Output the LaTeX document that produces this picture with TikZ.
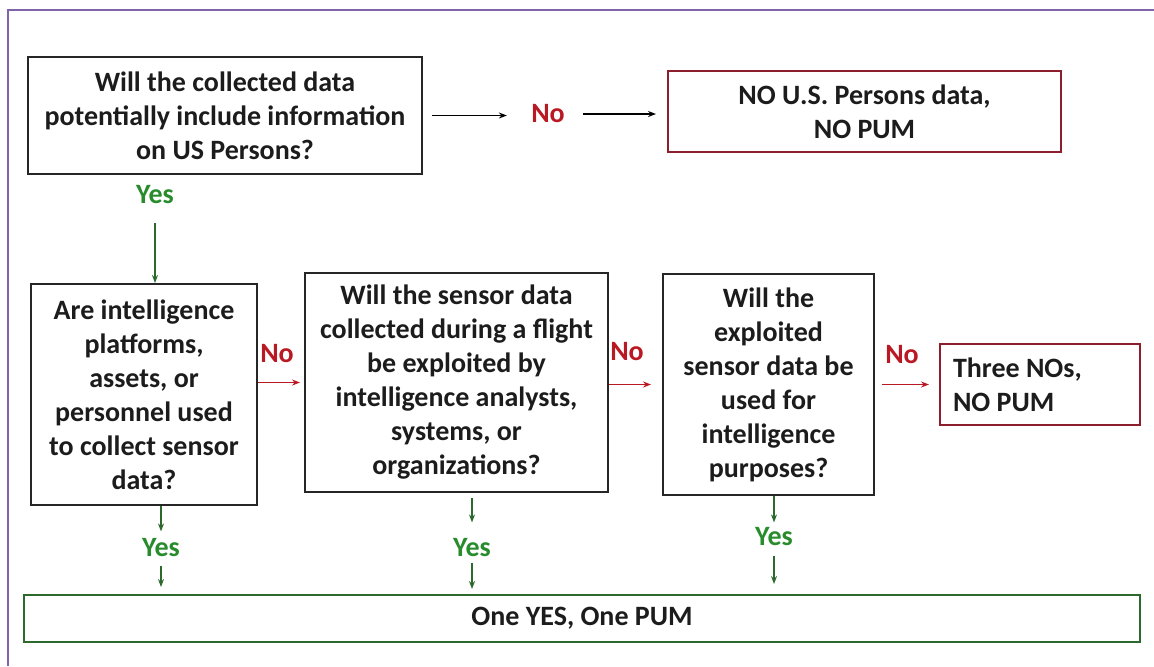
\documentclass[tikz,border=0pt]{standalone}
\usepackage{fontspec}
\setmainfont{Carlito}
\usetikzlibrary{arrows.meta}
\definecolor{textgray}{RGB}{28,28,28}
\definecolor{nored}{RGB}{185,25,35}
\definecolor{boxred}{RGB}{140,30,45}
\definecolor{yesgreen}{RGB}{40,140,45}
\definecolor{boxgreen}{RGB}{45,105,45}
\definecolor{framepurple}{RGB}{128,100,170}
\tikzstyle{qbox}=[
	draw=black!85,
	line width=1pt,
	align=center,
	inner sep=0pt,
	text=textgray
]
\tikzstyle{nobox} = [qbox,draw=boxred]
\tikzstyle{yesbox} = [qbox,draw=boxgreen]
\tikzstyle{nolabel} = [text=nored,inner sep=0pt]
\tikzstyle{yeslabel} = [text=yesgreen,inner sep=0pt]
\tikzstyle{plainedge} = [draw=black,line width=0.8pt,-{Stealth[length=4pt,width=3pt]}]
\tikzstyle{noedge} = [draw=nored,line width=0.7pt,-{Stealth[length=4pt,width=3pt]}]
\tikzstyle{yesedge} = [draw=boxgreen,line width=0.7pt,-{Stealth[length=4pt,width=3pt]}]

\begin{document}
\begin{tikzpicture}[x=0.5pt,y=-0.5pt,font=\fontsize{14}{17}\selectfont\bfseries]
			
			\useasboundingbox (0,0) rectangle (1154,666);
			\draw[framepurple,line width=1pt] (8,666) -- (8,10) -- (1154,10);
			
			\node[qbox,minimum width=197pt,minimum height=58.5pt]	(A) at (225,115.5)
				{Will the collected data\\potentially include information\\on US Persons?};
			\node[nobox,minimum width=196.5pt,minimum height=40.5pt]	(B) at (864.5,111.5)
				{NO U.S. Persons data,\\NO PUM};
			\node[qbox,minimum width=113pt,minimum height=110.5pt]	(C) at (144,394.5)
				{Are intelligence\\platforms,\\assets, or\\personnel used\\to collect sensor\\data?};
			\node[qbox,minimum width=151.5pt,minimum height=109.5pt]	(D) at (456.5,382.5)
				{Will the sensor data\\collected during a flight\\be exploited by\\intelligence analysts,\\systems, or\\organizations?};
			\node[qbox,minimum width=105.5pt,minimum height=110.5pt]	(E) at (768.5,384.5)
				{Will the\\exploited\\sensor data be\\used for\\intelligence\\purposes?};
			\node[nobox,align=flush left,text width=87pt,inner xsep=6.5pt,minimum height=40.5pt]	(F) at (1040,384.5)
				{Three NOs,\\NO PUM};
			\node[yesbox,minimum width=558pt,minimum height=23.5pt]	(G) at (582,618.5)
				{One YES, One PUM};
			
			\node[nolabel]	(noA) at (548,114) {No};
			\node[nolabel]	(noC) at (277,354) {No};
			\node[nolabel]	(noD) at (627,352) {No};
			\node[nolabel]	(noE) at (902,355) {No};
			\node[yeslabel]	(yA) at (155,195) {Yes};
			\node[yeslabel]	(yC) at (161,548) {Yes};
			\node[yeslabel]	(yD) at (472,548) {Yes};
			\node[yeslabel]	(yE) at (774,537) {Yes};
			
			\path
				(A.east) edge[plainedge,shorten <=4.5pt,shorten >=12pt] (A.east -| noA.west)
				(noA.east) edge[plainedge,shorten <=9pt,shorten >=5.5pt] (noA.east -| B.west)
				(C.east |- D.west) edge[noedge,shorten >=2pt] (D.west)
				(D.east |- E.west) edge[noedge,shorten >=5.5pt] (E.west)
				(E.east |- F.west) edge[noedge,shorten <=3.5pt,shorten >=5pt] (F.west);
			
			\path
				(yA.south) edge[yesedge,shorten <=9pt] (yA.south |- C.north)
				(C.south -| yC) edge[yesedge,shorten >=3.5pt] (yC.north)
				(yC.south) edge[yesedge,shorten <=4pt,shorten >=3.5pt] (yC.south |- G.north)
				(D.south -| yD) edge[yesedge,shorten <=2.5pt,shorten >=8pt] (yD.north)
				(yD.south) edge[yesedge,shorten <=2.5pt,shorten >=2.5pt] (yD.south |- G.north)
				(E.south -| yE) edge[yesedge,shorten >=2.5pt] (yE.north)
				(yE.south) edge[yesedge,shorten <=4.5pt,shorten >=5pt] (yE.south |- G.north);
			
			\end{tikzpicture}
\end{document}
